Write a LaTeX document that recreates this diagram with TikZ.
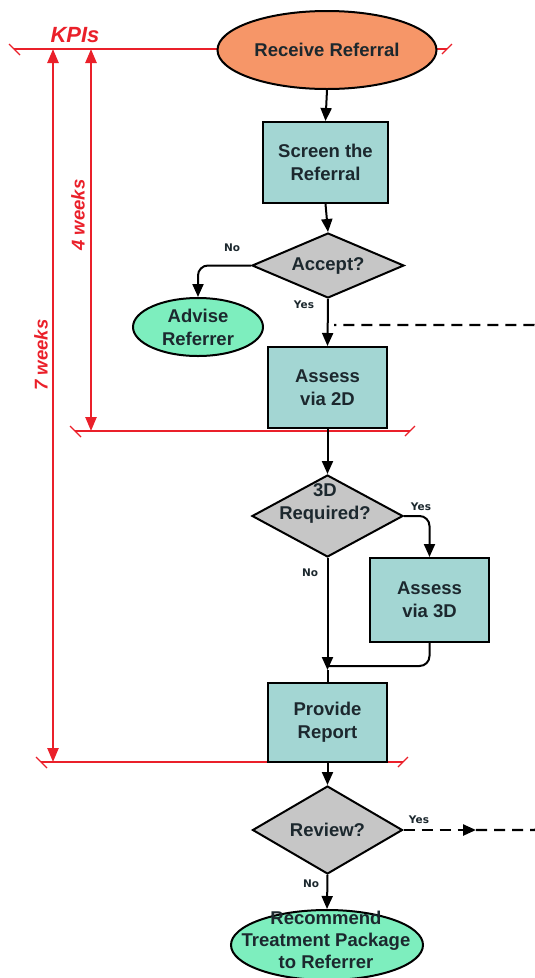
\documentclass[tikz,border=0pt]{standalone}
\usepackage{fontspec}
\setsansfont{Liberation Sans}
\newfontfamily\dvs{DejaVu Sans}
\usetikzlibrary{shapes.geometric,arrows.meta,calc}
\definecolor{orng}{RGB}{246,150,104}
\definecolor{tealf}{RGB}{163,214,211}
\definecolor{mint}{RGB}{125,238,190}
\definecolor{grayd}{RGB}{198,198,198}
\definecolor{kpi}{RGB}{234,32,42}
\definecolor{txt}{RGB}{28,40,46}
\begin{document}
\begin{tikzpicture}[x=1pt,y=-1pt,
 box/.style={draw=black,line width=2pt,fill=tealf,inner sep=0pt},
 ell/.style={ellipse,draw=black,line width=2pt,inner sep=0pt},
 dia/.style={diamond,draw=black,line width=2pt,fill=grayd,inner sep=0pt},
 lbl/.style={font=\sffamily\bfseries\fontsize{18.5}{23}\selectfont,text=txt,align=center},
 yn/.style={font=\dvs\bfseries\fontsize{10.5}{12}\selectfont,text=txt,inner sep=0pt},
 flow/.style={line width=2pt,-{Triangle[length=13pt,width=11pt]},rounded corners=10pt},
 plain/.style={line width=2pt,rounded corners=10pt},
 dashloop/.style={line width=2.4pt,dash pattern=on 11pt off 7pt,rounded corners=12pt},
 redl/.style={kpi,line width=1.2pt},
 reda/.style={kpi,line width=2.5pt,{Triangle[length=14pt,width=11pt]}-{Triangle[length=14pt,width=11pt]}},
 kpit/.style={text=kpi,font=\sffamily\bfseries\itshape\fontsize{18.5}{20}\selectfont},
]
\useasboundingbox (0,0) rectangle (535,978);
\clip (0,0) rectangle (535,978);

% red KPI lines (behind)
\coordinate (t0) at (14,49);   \coordinate (t1) at (447,49);
\coordinate (f0) at (75,431);  \coordinate (f1) at (410,431);
\coordinate (s0) at (41,762);  \coordinate (s1) at (403,762);
\draw[redl] (t0) -- (t1);
\draw[redl] (f0) -- (f1);
\draw[redl] (s0) -- (s1);
\foreach \c in {t0,f0,s0} \draw[redl] ($(\c)+(-5,-5)$) -- ($(\c)+(6,6)$);
\foreach \c in {t1,f1,s1} \draw[redl] ($(\c)+(-5,5)$) -- ($(\c)+(5,-5)$);
\coordinate (a7t) at (53,49);  \coordinate (a7b) at (53,762);
\coordinate (a4t) at (91,49);  \coordinate (a4b) at (91,431);
\draw[reda] (a7t) -- (a7b);
\draw[reda] (a4t) -- (a4b);
\node[kpit,font=\sffamily\bfseries\itshape\fontsize{22}{24}\selectfont] (kpis) at (75,35) {KPIs};
\node[kpit,rotate=90] (w4) at (78,215) {4 weeks};
\node[kpit,rotate=90] (w7) at (41,355) {7 weeks};

% shapes
\node[ell,fill=orng,minimum width=219pt,minimum height=78pt] (rec) at (327,50) {};
\node[lbl] (rect) at (rec) {Receive Referral};
\node[box,minimum width=125pt,minimum height=81pt] (scr) at (325.5,162.5) {};
\node[lbl] (scrt) at (scr) {Screen the\\Referral};
\node[dia,minimum width=152pt,minimum height=65pt] (acc) at (328,265.5) {};
\node[lbl] (acct) at (acc) {Accept?};
\node[ell,fill=mint,minimum width=130pt,minimum height=58pt] (adv) at (198,327) {};
\node[lbl] (advt) at (adv) {Advise\\Referrer};
\node[box,minimum width=119pt,minimum height=81pt] (a2d) at (327.5,387.5) {};
\node[lbl] (a2dt) at (a2d) {Assess\\via 2D};
\node[dia,minimum width=151pt,minimum height=82pt] (d3) at (327.5,516) {};
\node[lbl] (d3t) at (325,503) {3D\\Required?};
\node[box,minimum width=119pt,minimum height=84pt] (a3d) at (429.5,600) {};
\node[lbl] (a3dt) at (a3d) {Assess\\via 3D};
\node[box,minimum width=119pt,minimum height=79pt] (rep) at (327.5,722.5) {};
\node[lbl] (rept) at (rep) {Provide\\Report};
\node[dia,minimum width=150pt,minimum height=88pt] (rev) at (327.5,830) {};
\node[lbl] (revt) at (rev) {Review?};
\node[ell,fill=mint,minimum width=192pt,minimum height=70pt] (rcm) at (327,945) {};
\node[lbl,font=\sffamily\bfseries\fontsize{18.5}{22}\selectfont] (rcmt) at (326,940) {Recommend\\Treatment Package\\to Referrer};

% connectors
\draw[flow] (rec.south) -- (scr.north);
\draw[flow] (scr.south) -- (acc.north);
\draw[flow] (acc.west) -| (adv.north);
\draw[flow] (acc.south) -- (a2d.north);
\draw[flow] (a2d.south) -- (d3.north);
\draw[flow] (d3.east) -| (a3d.north);
\coordinate (j) at (327.5,670);
\draw[flow] (d3.south) -- (j);
\draw[plain] (j) -- (rep.north);
\draw[plain] (a3d.south) |- ($(j)+(0,-4)$);
\draw[flow] (rep.south) -- (rev.north);
\draw[flow] (rev.south) -- (rcm.north);
% dashed review loop
\coordinate (lp) at (476,830);
\coordinate (lr) at (546,830);
\coordinate (lu) at (546,325);
\coordinate (le) at (334,325);
\draw[line width=2.4pt,dash pattern=on 11pt off 7pt,-{Triangle[length=13pt,width=11pt]}] (rev.east) -- (lp);
\draw[dashloop] (lp) -- (lr) -- (lu) -- (le);

% yes/no labels
\node[yn] (nacc) at (232,248) {No};
\node[yn] (yacc) at (304,305) {Yes};
\node[yn] (y3d) at (421,507) {Yes};
\node[yn] (n3d) at (310,573) {No};
\node[yn] (yrev) at (419,820) {Yes};
\node[yn] (nrev) at (311,884) {No};
\end{tikzpicture}
\end{document}
